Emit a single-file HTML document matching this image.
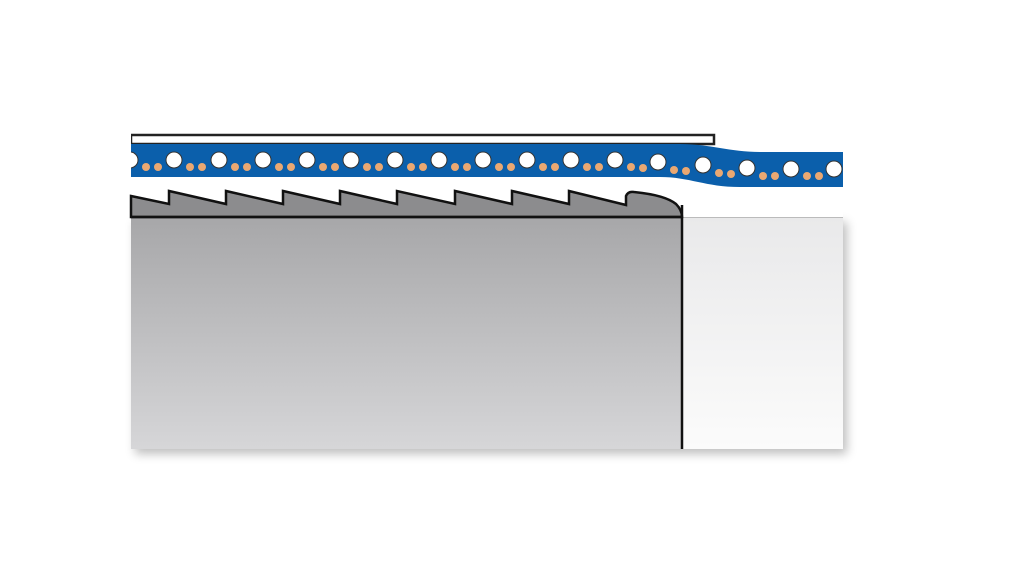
<!DOCTYPE html>
<html><head><style>html,body{margin:0;padding:0;background:#fff;width:1024px;height:575px;overflow:hidden}</style></head>
<body>
<svg width="1024" height="575" viewBox="0 0 1024 575" xmlns="http://www.w3.org/2000/svg">
<defs>
<linearGradient id="body" x1="0" y1="0" x2="0" y2="1"><stop offset="0" stop-color="#a7a7a9"/><stop offset="1" stop-color="#d6d6d8"/></linearGradient>
<linearGradient id="rt" x1="0" y1="0" x2="0" y2="1"><stop offset="0" stop-color="#e9e9ea"/><stop offset="1" stop-color="#fbfbfb"/></linearGradient>
<filter id="sh" x="-10%" y="-10%" width="130%" height="130%"><feGaussianBlur stdDeviation="5"/></filter>
<clipPath id="cp"><rect x="131" y="100" width="712" height="360"/></clipPath>
</defs>
<rect x="135" y="222" width="712" height="232" fill="#000" opacity="0.25" filter="url(#sh)"/>
<rect x="131" y="150" width="712" height="67" fill="#fff"/>
<rect x="682" y="217" width="161" height="232" fill="url(#rt)"/>
<line x1="682" y1="217.5" x2="843" y2="217.5" stroke="#bbb" stroke-width="1"/>
<rect x="131" y="217" width="551" height="232" fill="url(#body)"/>
<path d="M131,196 L169,204 L169,191 L226,204 L226,191 L283,204 L283,191 L340,204 L340,191 L397,204 L397,191 L455,204 L455,191 L512,204 L512,191 L569,204 L569,191 L626,205 L626,196 Q628,191 634,192 Q665,195 676,204 Q682,210 682,217 L131,217 Z" fill="#8c8c8e" stroke="#111" stroke-width="2.5" stroke-linejoin="miter"/>
<line x1="131" y1="217" x2="682" y2="217" stroke="#111" stroke-width="2.5"/>
<line x1="682" y1="205" x2="682" y2="449" stroke="#111" stroke-width="2.5"/>
<rect x="131" y="135" width="583" height="9" fill="#fff" stroke="#222" stroke-width="2.5"/>
<rect x="125" y="133" width="6" height="14" fill="#fff"/>
<g clip-path="url(#cp)">
<path d="M125,144 L680,144 C710,144 730,152 760,152 L850,152 L850,187 L740,187 C705,187 690,177 660,177 L125,177 Z" fill="#0b5fab"/>
<g stroke="#333" stroke-width="1" fill="#fff">
<circle cx="130" cy="160" r="8"/><circle cx="174" cy="160" r="8"/><circle cx="219" cy="160" r="8"/><circle cx="263" cy="160" r="8"/><circle cx="307" cy="160" r="8"/><circle cx="351" cy="160" r="8"/><circle cx="395" cy="160" r="8"/><circle cx="439" cy="160" r="8"/><circle cx="483" cy="160" r="8"/><circle cx="527" cy="160" r="8"/><circle cx="571" cy="160" r="8"/><circle cx="615" cy="160" r="8"/><circle cx="658" cy="162" r="8"/><circle cx="703" cy="165" r="8"/><circle cx="747" cy="168" r="8"/><circle cx="791" cy="169" r="8"/><circle cx="834" cy="169" r="8"/>
</g>
<g fill="#eaa872">
<circle cx="146" cy="167" r="4"/><circle cx="158" cy="167" r="4"/>
<circle cx="190" cy="167" r="4"/><circle cx="202" cy="167" r="4"/>
<circle cx="235" cy="167" r="4"/><circle cx="247" cy="167" r="4"/>
<circle cx="279" cy="167" r="4"/><circle cx="291" cy="167" r="4"/>
<circle cx="323" cy="167" r="4"/><circle cx="335" cy="167" r="4"/>
<circle cx="367" cy="167" r="4"/><circle cx="379" cy="167" r="4"/>
<circle cx="411" cy="167" r="4"/><circle cx="423" cy="167" r="4"/>
<circle cx="455" cy="167" r="4"/><circle cx="467" cy="167" r="4"/>
<circle cx="499" cy="167" r="4"/><circle cx="511" cy="167" r="4"/>
<circle cx="543" cy="167" r="4"/><circle cx="555" cy="167" r="4"/>
<circle cx="587" cy="167" r="4"/><circle cx="599" cy="167" r="4"/>
<circle cx="631" cy="167" r="4"/><circle cx="643" cy="168" r="4"/>
<circle cx="674" cy="170" r="4"/><circle cx="686" cy="171" r="4"/>
<circle cx="719" cy="173" r="4"/><circle cx="731" cy="174" r="4"/>
<circle cx="763" cy="176" r="4"/><circle cx="775" cy="176" r="4"/>
<circle cx="807" cy="176" r="4"/><circle cx="819" cy="176" r="4"/>
</g>
</g>
</svg>
</body></html>
